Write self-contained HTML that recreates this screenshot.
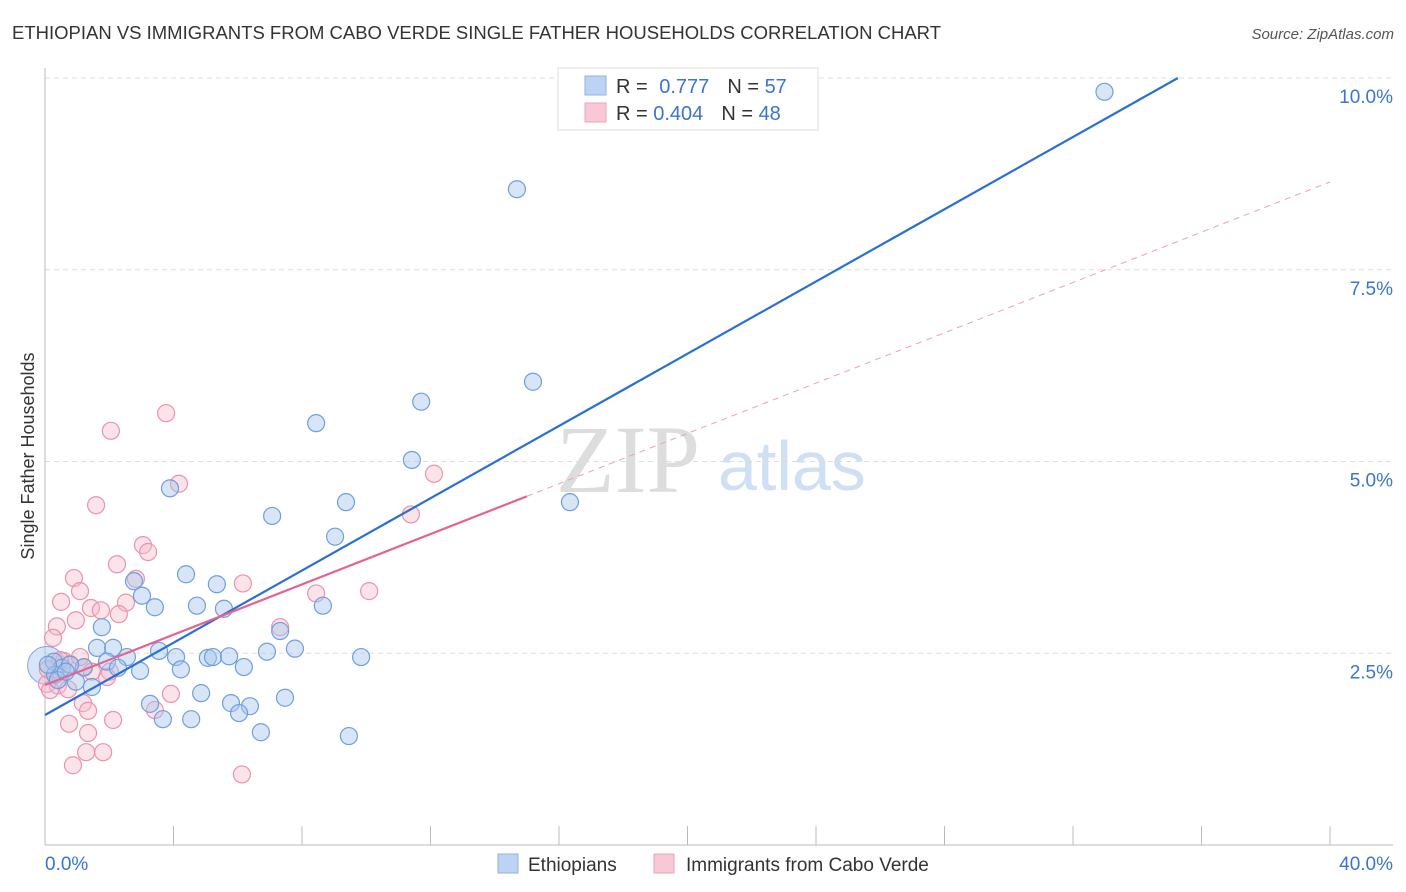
<!DOCTYPE html>
<html><head><meta charset="utf-8"><style>
body{margin:0;background:#fff;font-family:"Liberation Sans",sans-serif;}
#wrap{position:relative;width:1406px;height:892px;overflow:hidden;}
</style></head><body>
<div id="wrap">
<svg id="svg" width="1406" height="892" xmlns="http://www.w3.org/2000/svg">
<text x="12" y="39" font-size="18" fill="#333" textLength="929" lengthAdjust="spacingAndGlyphs">ETHIOPIAN VS IMMIGRANTS FROM CABO VERDE SINGLE FATHER HOUSEHOLDS CORRELATION CHART</text>
<text x="1394" y="39" font-size="15" fill="#555" font-style="italic" text-anchor="end">Source: ZipAtlas.com</text>
<text x="34" y="456" font-size="18" fill="#333" text-anchor="middle" transform="rotate(-90 34 456)">Single Father Households</text>
<text x="556" y="492" font-size="96" fill="#ddd" font-family="Liberation Serif,serif">ZIP</text>
<text x="718" y="490" font-size="70" fill="#cfe0f5">atlas</text>
<g id="grid"></g>
<g id="axes"></g>
<g id="pts"></g>
<g id="lines"></g>
<g>
<rect x="558" y="68" width="260" height="62" fill="#fff" stroke="#ddd"/>
<rect x="585" y="76" width="21" height="19" fill="#bcd3f3" stroke="#8fb3e6"/>
<rect x="585" y="103" width="21" height="19" fill="#f9c8d6" stroke="#eda3b9"/>
<text x="616" y="93" font-size="20" fill="#333">R = <tspan fill="#3b74d1" dx="6">0.777</tspan><tspan fill="#333" dx="18">N = </tspan><tspan fill="#3b74d1">57</tspan></text>
<text x="616" y="120" font-size="20" fill="#333">R = <tspan fill="#3b74d1">0.404</tspan><tspan fill="#333" dx="18">N = </tspan><tspan fill="#3b74d1">48</tspan></text>
</g>
<g>
<rect x="498" y="854" width="20" height="19" fill="#bcd3f3" stroke="#8fb3e6"/>
<text x="528" y="871" font-size="19" fill="#333">Ethiopians</text>
<rect x="654" y="854" width="20" height="19" fill="#f9c8d6" stroke="#eda3b9"/>
<text x="686" y="871" font-size="19" fill="#333">Immigrants from Cabo Verde</text>
</g>
</svg>
</div>
<script>
const xTicks=[0,4,8,12,16,20,24,28,32,36,40];
const yTicks=[2.5,5.0,7.5,10.0];
const ethX=[32.98,14.69,15.19,11.71,8.44,11.42,3.89,9.37,16.34,7.07,9.03,4.39,2.77,5.35,3.02,3.42,4.73,5.57,8.65,1.77,7.32,1.62,2.12,3.55,7.78,6.91,4.08,5.07,5.23,5.73,9.84,2.55,1.93,1.21,2.27,2.96,6.19,4.23,0.28,0.53,0.78,0.31,0.96,1.46,4.86,3.27,5.79,6.38,7.47,6.04,3.67,4.55,6.72,9.46,0.09,0.40,0.65];
const ethY=[9.82,8.55,6.04,5.78,5.50,5.02,4.65,4.47,4.47,4.29,4.02,3.53,3.44,3.40,3.25,3.10,3.12,3.08,3.12,2.84,2.79,2.57,2.57,2.53,2.56,2.52,2.45,2.44,2.45,2.46,2.45,2.45,2.39,2.32,2.31,2.27,2.32,2.29,2.39,2.31,2.35,2.22,2.13,2.06,1.98,1.84,1.85,1.81,1.92,1.72,1.64,1.64,1.47,1.42,2.35,2.15,2.26];
const capX=[3.77,2.05,4.17,12.11,1.59,11.39,3.05,3.21,2.24,0.90,2.83,6.16,1.09,10.09,8.44,0.50,2.52,1.43,1.74,2.30,0.96,7.32,0.37,0.25,0.59,0.78,1.21,2.02,1.93,0.06,0.40,0.72,3.92,1.18,1.34,3.42,0.75,2.12,1.34,1.28,1.81,0.87,6.13,0.16,0.47,0.09,1.09,1.46];
const capY=[5.63,5.40,4.71,4.84,4.43,4.31,3.91,3.82,3.66,3.48,3.47,3.41,3.31,3.31,3.28,3.17,3.16,3.09,3.06,3.01,2.93,2.84,2.85,2.70,2.40,2.36,2.31,2.26,2.19,2.10,2.08,2.03,1.97,1.85,1.75,1.76,1.58,1.63,1.46,1.21,1.21,1.04,0.92,2.02,2.41,2.29,2.45,2.26];
const ethFit=[1.695,0.2355];
const capFit=[2.086,0.164];
const capSolidEnd=15;
const X=v=>45+v*32.125, Y=v=>845-v*76.7;
const NS="http://www.w3.org/2000/svg";
function mk(parent,tag,attrs){const e=document.createElementNS(NS,tag);for(const k in attrs)e.setAttribute(k,attrs[k]);document.getElementById(parent).appendChild(e);return e;}
for(const t of yTicks){
 const l=mk('grid','line',{x1:45,x2:1393,y1:Y(t),y2:Y(t),stroke:'#ddd','stroke-dasharray':'5,4'});
 
 
 const tx=mk('grid','text',{x:1393,y:Y(t)+25,'font-size':19,fill:'#3b74d1','text-anchor':'end'});
 tx.textContent=t.toFixed(1)+'%';
 
 
}
mk('axes','line',{x1:45,x2:45,y1:68,y2:845,stroke:'#bbb'});
mk('axes','line',{x1:45,x2:1393,y1:845,y2:845,stroke:'#bbb'});
for(const t of xTicks){
 const l=mk('axes','line',{x1:X(t),x2:X(t),y1:826,y2:845,stroke:'#bbb'});
 
 
}
const x0=mk('axes','text',{x:45,y:870,'font-size':19,fill:'#3b74d1'});x0.textContent=xTicks[0].toFixed(1)+'%';


const x1=mk('axes','text',{x:1393,y:870,'font-size':19,fill:'#3b74d1','text-anchor':'end'});x1.textContent=xTicks[xTicks.length-1].toFixed(1)+'%';


const big=mk('pts','circle',{cx:X(0.05),cy:Y(2.34),r:19,fill:'rgba(169,198,238,0.45)',stroke:'#7fa8e0'});


capX.forEach((v,i)=>{const c=mk('pts','circle',{cx:X(v),cy:Y(capY[i]),r:8.5,fill:'rgba(245,184,203,0.4)',stroke:'#eb92ae','stroke-width':1.2});
 
 });
ethX.forEach((v,i)=>{const c=mk('pts','circle',{cx:X(v),cy:Y(ethY[i]),r:8.5,fill:'rgba(169,198,238,0.45)',stroke:'#6f9fdc','stroke-width':1.2});
 
 });
const xe=(10-ethFit[0])/ethFit[1];
const bl=mk('lines','line',{x1:X(0),y1:Y(ethFit[0]),x2:X(xe),y2:Y(10),stroke:'#2a6fd6','stroke-width':2.2});


const pl=mk('lines','line',{x1:X(0),y1:Y(capFit[0]),x2:X(capSolidEnd),y2:Y(capFit[0]+capFit[1]*capSolidEnd),stroke:'#e6638f','stroke-width':2.2});


const pd=mk('lines','line',{x1:X(capSolidEnd),y1:Y(capFit[0]+capFit[1]*capSolidEnd),x2:X(40),y2:Y(capFit[0]+capFit[1]*40),stroke:'#eaa0b8','stroke-width':1,'stroke-dasharray':'6,5'});


</script>
</body></html>
